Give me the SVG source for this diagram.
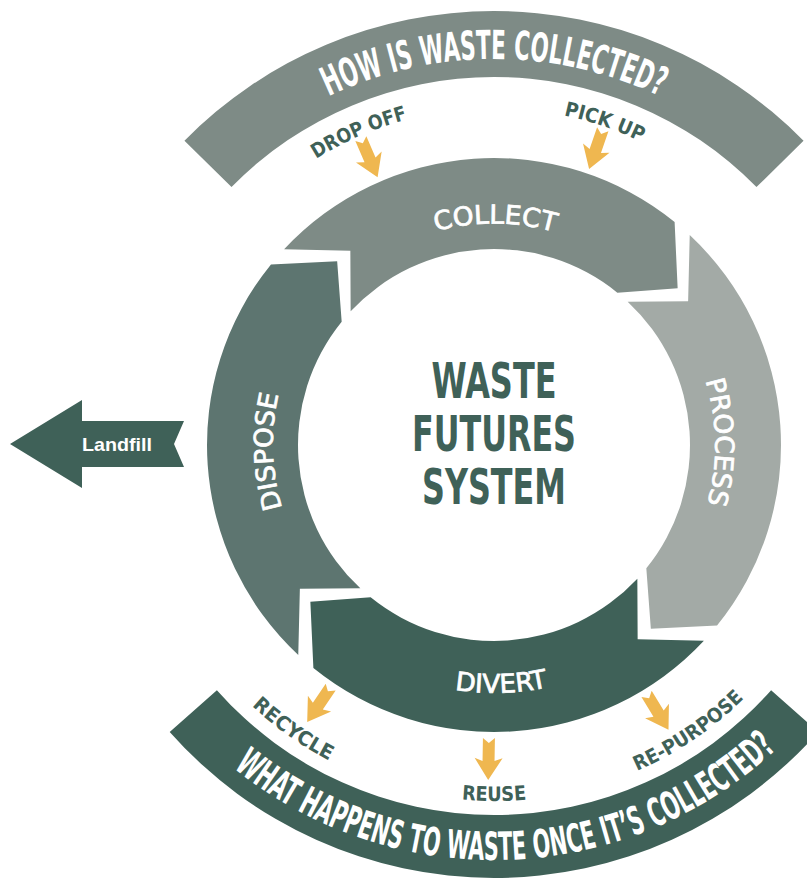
<svg xmlns="http://www.w3.org/2000/svg" width="807" height="879" viewBox="0 0 807 879">
<style>
.f{font-family:"DejaVu Sans Condensed","Liberation Sans Narrow","DejaVu Sans",sans-serif}
.b{font-weight:bold}
.w{fill:#ffffff}
.d{fill:#3f6158}
.rl{stroke:#ffffff;stroke-width:0.7}
.ya{fill:#efb750}
</style>
<defs>
<path id="pTop" d="M113.86,377.97 A386,386 0 0 1 874.14,377.97"/>
<path id="pTopLbl" d="M162.12,386.48 A337,337 0 0 1 825.88,386.48"/>
<path id="pRing" d="M286.33,520.59 A221,221 0 1 1 701.67,369.41 A221,221 0 1 1 286.33,520.59"/>
<path id="pDivert" d="M249.77,488.07 A248,248 0 0 0 738.23,488.07"/>
<path id="pBotLbl" d="M143.41,506.82 A356,356 0 0 0 844.59,506.82"/>
<path id="pBot" d="M85.30,517.07 A415,415 0 0 0 902.70,517.07"/>
<path id="yArrow" d="M0,0 L-14,-22 L-6,-19 L-6,-42 L0,-37 L6,-42 L6,-19 L14,-22 Z"/>
</defs>
<rect width="807" height="879" fill="#ffffff"/>

<g id="band-top">
<path d="M184.45,140.80 A434,434 0 0 1 803.55,140.80 L756.48,187.07 A368,368 0 0 0 231.52,187.07 Z" fill="#7e8b86"/>
<text class="f b w" font-size="40" text-anchor="middle"><textPath href="#pTop" startOffset="50%" textLength="342" lengthAdjust="spacingAndGlyphs">HOW IS WASTE COLLECTED?</textPath></text>
</g>

<g id="label-dropoff">
<text class="f b d" font-size="20" text-anchor="middle"><textPath href="#pTopLbl" startOffset="332.9" textLength="100" lengthAdjust="spacingAndGlyphs">DROP OFF</textPath></text>
</g>
<g id="label-pickup">
<text class="f b d" font-size="20" text-anchor="middle"><textPath href="#pTopLbl" startOffset="581.7" textLength="82" lengthAdjust="spacingAndGlyphs">PICK UP</textPath></text>
</g>

<g id="seg-collect">
<path d="M284.10,249.27 A287,287 0 0 1 674.61,221.96 L677.64,288.16 L617.35,292.68 A196,196 0 0 0 350.66,311.33 L350.35,250.87 Z" fill="#7e8b86"/>
<text class="f w rl" font-size="26" text-anchor="middle"><textPath href="#pRing" startOffset="426.2" textLength="120" lengthAdjust="spacingAndGlyphs">COLLECT</textPath></text>
</g>

<g id="seg-process">
<path d="M689.73,235.10 A287,287 0 0 1 717.04,625.61 L650.84,628.64 L646.32,568.35 A196,196 0 0 0 627.67,301.66 L688.13,301.35 Z" fill="#a3aaa6"/>
<text class="f w rl" font-size="26" text-anchor="middle"><textPath href="#pRing" startOffset="769.5" textLength="125" lengthAdjust="spacingAndGlyphs">PROCESS</textPath></text>
</g>

<g id="seg-divert">
<path d="M703.90,640.73 A287,287 0 0 1 313.39,668.04 L310.36,601.84 L370.65,597.32 A196,196 0 0 0 637.34,578.67 L637.65,639.13 Z" fill="#3f6158"/>
<text class="f w rl" font-size="26" text-anchor="middle"><textPath href="#pDivert" startOffset="353.6" textLength="94" lengthAdjust="spacingAndGlyphs">DIVERT</textPath></text>
</g>

<g id="seg-dispose">
<path d="M298.27,654.90 A287,287 0 0 1 270.96,264.39 L337.16,261.36 L341.68,321.65 A196,196 0 0 0 360.33,588.34 L299.87,588.65 Z" fill="#5d7570"/>
<text class="f w rl" font-size="26" text-anchor="middle"><textPath href="#pRing" startOffset="70.6" textLength="115" lengthAdjust="spacingAndGlyphs">DISPOSE</textPath></text>
</g>

<g id="title">
<text class="f b d" font-size="50" x="494" y="398" text-anchor="middle" textLength="125" lengthAdjust="spacingAndGlyphs">WASTE</text>
<text class="f b d" font-size="50" x="494" y="451" text-anchor="middle" textLength="164" lengthAdjust="spacingAndGlyphs">FUTURES</text>
<text class="f b d" font-size="50" x="494" y="504" text-anchor="middle" textLength="144" lengthAdjust="spacingAndGlyphs">SYSTEM</text>
</g>

<g id="landfill">
<path d="M10,444 L82,400 L82,421 L184,421 L174,444 L184,467 L82,467 L82,488 Z" fill="#3f6158"/>
<text font-family="'Liberation Sans',Arial,sans-serif" font-weight="bold" font-size="19" x="82" y="451" class="w" textLength="70" lengthAdjust="spacingAndGlyphs">Landfill</text>
</g>

<g id="band-bottom">
<path d="M216.88,690.17 A370,370 0 0 0 771.12,690.17 L818.30,731.91 A433,433 0 0 1 169.70,731.91 Z" fill="#3f6158"/>
<text class="f b w" font-size="39" text-anchor="middle"><textPath href="#pBot" startOffset="594" textLength="593" lengthAdjust="spacingAndGlyphs">WHAT HAPPENS TO WASTE ONCE IT’S COLLECTED?</textPath></text>
</g>

<g id="label-recycle">
<text class="f b d" font-size="20" text-anchor="middle"><textPath href="#pBotLbl" startOffset="278" textLength="95" lengthAdjust="spacingAndGlyphs">RECYCLE</textPath></text>
</g>
<g id="label-reuse">
<text class="f b d" font-size="20" text-anchor="middle"><textPath href="#pBotLbl" startOffset="497" textLength="65" lengthAdjust="spacingAndGlyphs">REUSE</textPath></text>
</g>
<g id="label-repurpose">
<text class="f b d" font-size="20" text-anchor="middle"><textPath href="#pBotLbl" startOffset="709" textLength="130" lengthAdjust="spacingAndGlyphs">RE-PURPOSE</textPath></text>
</g>

<g id="connectors">
<use href="#yArrow" class="ya" transform="translate(377.6,177.2) rotate(-23.5)"/>
<use href="#yArrow" class="ya" transform="translate(589.1,168.9) rotate(19)"/>
<use href="#yArrow" class="ya" transform="translate(307.2,721.9) rotate(34)"/>
<use href="#yArrow" class="ya" transform="translate(488.2,780) rotate(1)"/>
<use href="#yArrow" class="ya" transform="translate(668.5,729.8) rotate(-31.5)"/>
</g>
</svg>
